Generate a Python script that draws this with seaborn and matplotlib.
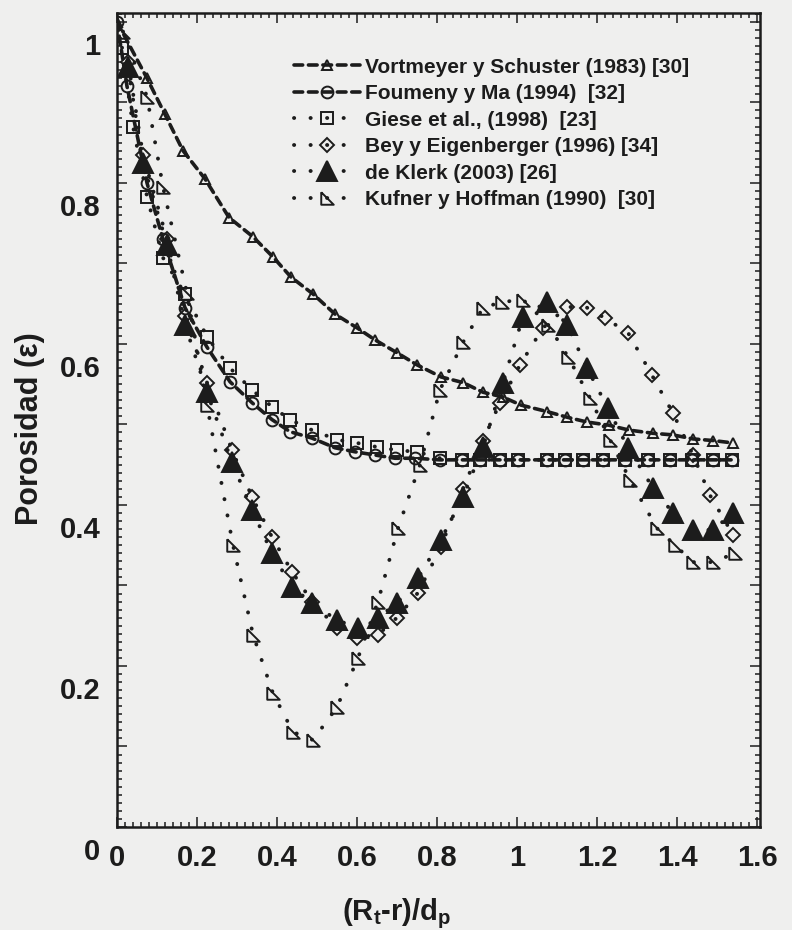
import numpy as np
import pandas as pd
import matplotlib
matplotlib.use("Agg")
import matplotlib.pyplot as plt
import matplotlib.transforms as mtransforms
from matplotlib.ticker import MultipleLocator, FuncFormatter
import seaborn as sns

# ---- data: porosity vs. dimensionless wall distance ----
vs_x = [0, 0.075, 0.12, 0.165, 0.22, 0.28, 0.34, 0.39, 0.435, 0.49, 0.545, 0.60, 0.645, 0.70,
        0.75, 0.81, 0.865, 0.915, 0.965, 1.01, 1.075, 1.125, 1.175, 1.23, 1.28, 1.34, 1.39,
        1.44, 1.49, 1.54]
vs_y = [1.0, 0.93, 0.885, 0.84, 0.805, 0.757, 0.733, 0.708, 0.683, 0.662, 0.637, 0.62, 0.605,
        0.589, 0.574, 0.559, 0.552, 0.54, 0.534, 0.524, 0.516, 0.509, 0.503, 0.499, 0.493,
        0.489, 0.487, 0.482, 0.48, 0.477]

fm_x = [0, 0.025, 0.075, 0.115, 0.17, 0.225, 0.2825, 0.3375, 0.3875, 0.4325, 0.4875, 0.545,
        0.595, 0.645, 0.695, 0.745, 0.8075, 0.8625, 0.9075, 0.9575, 1.0025, 1.075, 1.12, 1.165,
        1.215, 1.27, 1.3275, 1.3825, 1.4375, 1.49, 1.5375]
fm_y = [1.0, 0.92, 0.80, 0.73, 0.645, 0.596, 0.553, 0.527, 0.506, 0.491, 0.483, 0.471, 0.466,
        0.462, 0.458, 0.458, 0.456, 0.456, 0.456, 0.456, 0.456, 0.456, 0.456, 0.456, 0.456,
        0.456, 0.456, 0.456, 0.456, 0.456, 0.456]

gs_x = [0.0125, 0.04, 0.075, 0.115, 0.17, 0.225, 0.2825, 0.3375, 0.3875, 0.4325, 0.4875, 0.55,
        0.60, 0.65, 0.70, 0.75, 0.8075, 0.8625, 0.9075, 0.9575, 1.0025, 1.075, 1.12, 1.165,
        1.215, 1.27, 1.3275, 1.3825, 1.4375, 1.49, 1.5375]
gs_y = [0.968, 0.87, 0.783, 0.707, 0.662, 0.609, 0.570, 0.543, 0.522, 0.506, 0.493, 0.481,
        0.477, 0.472, 0.468, 0.466, 0.458, 0.456, 0.456, 0.456, 0.456, 0.456, 0.456, 0.456,
        0.456, 0.456, 0.456, 0.456, 0.456, 0.456, 0.456]

be_x = [0.0275, 0.065, 0.125, 0.17, 0.225, 0.2875, 0.3375, 0.3875, 0.4375, 0.4875, 0.55, 0.60,
        0.6525, 0.70, 0.7525, 0.81, 0.865, 0.915, 0.9575, 1.0075, 1.065, 1.125, 1.175, 1.22,
        1.2775, 1.3375, 1.39, 1.44, 1.4825, 1.54]
be_y = [0.95, 0.835, 0.73, 0.635, 0.552, 0.468, 0.41, 0.36, 0.317, 0.28, 0.247, 0.235, 0.239,
        0.26, 0.291, 0.348, 0.42, 0.48, 0.527, 0.574, 0.62, 0.646, 0.645, 0.632, 0.614, 0.561,
        0.514, 0.462, 0.412, 0.363]

dk_x = [0.0275, 0.065, 0.125, 0.17, 0.225, 0.2875, 0.3375, 0.3875, 0.4375, 0.4875, 0.55, 0.6025,
        0.6525, 0.70, 0.7525, 0.81, 0.865, 0.915, 0.965, 1.015, 1.075, 1.125, 1.175, 1.2275,
        1.2775, 1.34, 1.39, 1.44, 1.49, 1.54]
dk_y = [0.944, 0.825, 0.723, 0.624, 0.540, 0.453, 0.394, 0.340, 0.298, 0.278, 0.257, 0.247,
        0.260, 0.278, 0.309, 0.357, 0.410, 0.472, 0.552, 0.634, 0.652, 0.624, 0.570, 0.520,
        0.471, 0.421, 0.390, 0.369, 0.369, 0.390]

kh_x = [0.015, 0.075, 0.115, 0.175, 0.225, 0.29, 0.34, 0.39, 0.44, 0.49, 0.55, 0.6025, 0.6525,
        0.7025, 0.7575, 0.8075, 0.865, 0.915, 0.9625, 1.015, 1.0775, 1.1275, 1.1825, 1.2325,
        1.2825, 1.35, 1.395, 1.44, 1.49, 1.545]
kh_y = [0.988, 0.907, 0.795, 0.663, 0.524, 0.350, 0.239, 0.166, 0.118, 0.108, 0.149, 0.21, 0.28,
        0.371, 0.45, 0.543, 0.602, 0.645, 0.652, 0.655, 0.624, 0.584, 0.533, 0.481, 0.431,
        0.371, 0.350, 0.329, 0.329, 0.340]

labels = ["Vortmeyer y Schuster (1983) [30]",
          "Foumeny y Ma (1994)  [32]",
          "Giese et al., (1998)  [23]",
          "Bey y Eigenberger (1996) [34]",
          "de Klerk (2003) [26]",
          "Kufner y Hoffman (1990)  [30]"]

# ---- style ----
sns.set_style("ticks")
plt.rcParams["font.family"] = ["Liberation Sans", "DejaVu Sans"]
plt.rcParams["mathtext.fontset"] = "custom"
plt.rcParams["mathtext.rm"] = "Liberation Sans:bold"
plt.rcParams["mathtext.it"] = "Liberation Sans:bold"
plt.rcParams["mathtext.bf"] = "Liberation Sans:bold"

INK = "#1c1c1c"
PAPER = "#efefee"

fig = plt.figure(figsize=(7.92, 9.30), dpi=100, facecolor=PAPER)
ax = fig.add_axes([117 / 792, 103 / 930, 643 / 792, 814 / 930])
ax.set_facecolor(PAPER)

right_tri = [(-1, 1), (-1, -1), (1, -1), (-1, 1)]
dash = (0, (2.4, 1.6))
dot = (0, (0.05, 4.2))

series = [
    (vs_x, vs_y, dict(marker="^", markersize=6.5, linestyle=dash, linewidth=2.6)),
    (fm_x, fm_y, dict(marker="o", markersize=8.5, linestyle=dash, linewidth=2.6)),
    (gs_x, gs_y, dict(marker="s", markersize=9, linestyle=dot, linewidth=2.8)),
    (be_x, be_y, dict(marker="D", markersize=7, linestyle=dot, linewidth=2.8)),
    (dk_x, dk_y, dict(marker="^", markersize=14, linestyle=dot, linewidth=2.8,
                      markerfacecolor=INK)),
    (kh_x, kh_y, dict(marker=right_tri, markersize=9, linestyle=dot, linewidth=2.8)),
]

for (xs, ys, kw), lab in zip(series, labels):
    style = dict(color=INK, markeredgecolor=INK, markeredgewidth=1.4,
                 markerfacecolor="none", dash_capstyle="round")
    style.update(kw)
    df = pd.DataFrame({"x": xs, "y": ys})
    sns.lineplot(data=df, x="x", y="y", ax=ax, sort=False, estimator=None,
                 label=lab, **style)

# ---- axes ----
ax.set_xlim(0, 1.6075)
ax.set_ylim(0, 1.011)

ax.xaxis.set_major_locator(MultipleLocator(0.2))
ax.xaxis.set_minor_locator(MultipleLocator(0.02))
ax.yaxis.set_major_locator(MultipleLocator(0.1))
ax.yaxis.set_minor_locator(MultipleLocator(0.01))

ax.xaxis.set_major_formatter(FuncFormatter(lambda v, p: f"{v:g}"))
ax.yaxis.set_major_formatter(
    FuncFormatter(lambda v, p: f"{v:g}" if int(round(v * 10)) % 2 == 0 else ""))

ax.tick_params(which="both", direction="in", top=True, right=True, color=INK, width=1.1)
ax.tick_params(which="major", length=7)
ax.tick_params(which="minor", length=3.5)
ax.tick_params(axis="x", which="major", labelsize=21, pad=12, labelcolor=INK)
ax.tick_params(axis="y", which="major", labelsize=21, pad=12, labelcolor=INK)
for lbl in ax.get_xticklabels() + ax.get_yticklabels():
    lbl.set_fontweight("bold")

# y labels sit a little below their ticks
shift = mtransforms.ScaledTranslation(0, -0.22, fig.dpi_scale_trans)
for lbl in ax.get_yticklabels():
    lbl.set_transform(lbl.get_transform() + shift)

for s in ax.spines.values():
    s.set_linewidth(1.8)
    s.set_color(INK)

ax.set_xlabel(r"(R$_{t}$-r)/d$_{p}$", fontsize=21, fontweight="bold", color=INK)
ax.set_ylabel("Porosidad (ε)", fontsize=22, fontweight="bold", color=INK)
ax.xaxis.set_label_coords(0.434, -0.085)
ax.yaxis.set_label_coords(-0.112, 0.49)

leg = ax.legend(loc="upper left", bbox_to_anchor=(0.275, 0.945), frameon=False,
                fontsize=15, handlelength=3.2, handletextpad=0.2, labelspacing=0.36,
                borderaxespad=0, borderpad=0, numpoints=1)
for t in leg.get_texts():
    t.set_fontweight("bold")
    t.set_color(INK)

fig.savefig("out.png", dpi=100, facecolor=PAPER)
